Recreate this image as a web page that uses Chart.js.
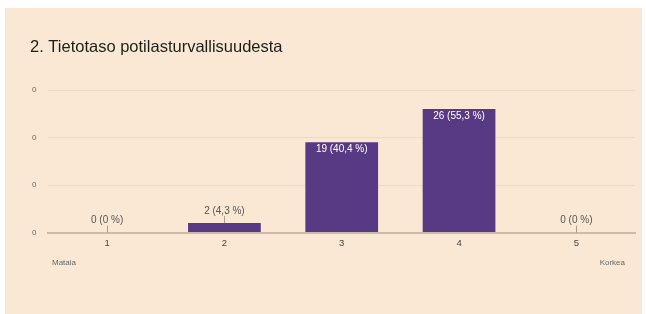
<!DOCTYPE html>
<html>
<head>
<meta charset="utf-8">
<script src="https://cdn.jsdelivr.net/npm/chart.js@4/dist/chart.umd.min.js"></script>
<style>
  html, body { margin: 0; padding: 0; background: #ffffff; }
  #wrap { position: absolute; left: 0; top: 0; width: 646px; height: 314px; }
  #panel { position: absolute; left: 5px; top: 8px; width: 637px; height: 306px; background: #FAE8D4; }
  canvas { position: absolute; left: 0; top: 0; }
</style>
</head>
<body>
<div id="wrap">
  <div id="panel"></div>
  <canvas id="c" width="646" height="314"></canvas>
</div>
<script>
const titleText = '2. Tietotaso potilasturvallisuudesta';
const categories = ['1', '2', '3', '4', '5'];
const counts = [0, 2, 19, 26, 0];
const percents = ['0 %', '4,3 %', '40,4 %', '55,3 %', '0 %'];
const yTickValues = [0, 10, 20, 30];
const yTickLabels = ['0', '0', '0', '0'];
const lowLabel = 'Matala';
const highLabel = 'Korkea';

const FONT = '"Liberation Sans", Arial, sans-serif';
const BAR = '#583A84';

const labelsPlugin = {
  id: 'barLabels',
  afterDatasetsDraw(chart) {
    const ctx = chart.ctx;
    const meta = chart.getDatasetMeta(0);
    ctx.save();
    ctx.font = '16.5px ' + FONT;
    ctx.fillStyle = '#1e1e1e';
    ctx.textAlign = 'left';
    ctx.textBaseline = 'middle';
    ctx.fillText(titleText, 30, 47);

    ctx.font = '10px ' + FONT;
    ctx.textAlign = 'center';
    meta.data.forEach((bar, i) => {
      const text = counts[i] + ' (' + percents[i] + ')';
      const h = bar.base - bar.y;
      if (h > 20) {
        ctx.fillStyle = '#ffffff';
        ctx.fillText(text, bar.x, bar.y + 7);
      } else {
        ctx.strokeStyle = '#a99c8c';
        ctx.lineWidth = 1;
        ctx.beginPath();
        ctx.moveTo(Math.round(bar.x) + 0.5, bar.y - 7);
        ctx.lineTo(Math.round(bar.x) + 0.5, bar.y);
        ctx.stroke();
        ctx.fillStyle = '#555555';
        ctx.fillText(text, bar.x, bar.y - 12);
      }
    });
    ctx.font = '8px ' + FONT;
    ctx.fillStyle = '#666666';
    ctx.textAlign = 'left';
    ctx.fillText(lowLabel, 52, 263);
    ctx.textAlign = 'right';
    ctx.fillText(highLabel, 625, 263);
    ctx.restore();
  }
};

new Chart(document.getElementById('c'), {
  type: 'bar',
  data: {
    labels: categories,
    datasets: [{
      data: counts,
      backgroundColor: BAR,
      barPercentage: 0.62,
      categoryPercentage: 1.0
    }]
  },
  options: {
    responsive: false,
    animation: false,
    layout: { padding: { left: 20, right: 11, top: 90, bottom: 60 } },
    plugins: {
      legend: { display: false },
      tooltip: { enabled: false },
      title: { display: false }
    },
    scales: {
      x: {
        grid: { display: false, drawTicks: false },
        border: { display: true, color: '#c9bcab', width: 2 },
        ticks: { color: '#444444', font: { family: FONT, size: 9.5 }, padding: 5 }
      },
      y: {
        min: 0,
        max: 30,
        afterBuildTicks(scale) {
          scale.ticks = yTickValues.map(v => ({ value: v }));
        },
        grid: { color: 'rgba(120,100,80,0.10)', drawTicks: false },
        border: { display: false },
        ticks: {
          color: '#666666',
          font: { family: FONT, size: 8 },
          padding: 12,
          callback(value, index) { return yTickLabels[index]; }
        }
      }
    }
  },
  plugins: [labelsPlugin]
});
</script>
</body>
</html>
